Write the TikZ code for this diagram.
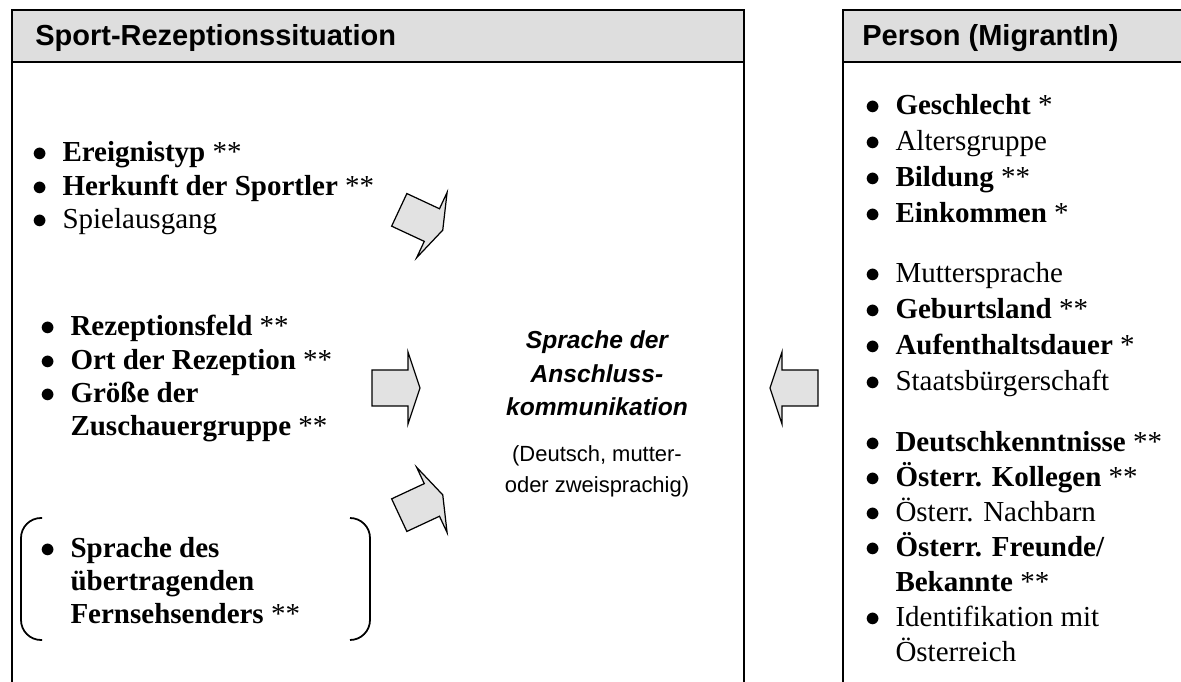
\documentclass[tikz,border=0pt]{standalone}
\usepackage{fontspec}
\setmainfont{Liberation Serif}
\setsansfont{Liberation Sans}
\usetikzlibrary{positioning}
\definecolor{panelgray}{RGB}{222,222,222}
\definecolor{arrowgray}{RGB}{226,226,226}
\newcommand{\itemsizeL}{\fontsize{16.5pt}{18.8pt}\selectfont}
\newcommand{\itemsizeR}{\fontsize{16.5pt}{20.4pt}\selectfont}
\newcommand{\itemsizeC}{\fontsize{16.5pt}{19.9pt}\selectfont}
\newcommand{\topicsize}{\fontsize{14pt}{18.8pt}\selectfont}
\newcommand{\notesize}{\fontsize{12.5pt}{18.2pt}\selectfont}
\newcommand{\ib}{$\bullet$}
\tikzset{
    panel/.style={line width=1.1pt},
    headtext/.style={anchor=base west, inner sep=0pt, font=\sffamily\bfseries\fontsize{16.5pt}{20pt}\selectfont},
    itemlist/.style={anchor=base west, inner sep=0pt},
    topic/.style={anchor=base, inner sep=0pt, font=\sffamily\topicsize},
    bracket/.style={line width=1pt, rounded corners=0.4cm},
    blockarrow/.pic={
        \filldraw[fill=arrowgray, line width=0.7pt, line join=miter]
            (-24,-18) -- (12,-18) -- (12,-36) -- (24,0) -- (12,36) -- (12,18) -- (-24,18) -- cycle;
    }
}

\begin{document}
\begin{tikzpicture}[x=0.02cm, y=-0.02cm]
    \useasboundingbox (0,0) rectangle (1181,682);
    \clip (0,0) rectangle (1181,682);
    % panels
    \fill[panelgray] (12,10) rectangle (744,62);
    \fill[panelgray] (843,10) rectangle (1200,62);
    \draw[panel] (12,700) -- (12,10) -- (744,10) -- (744,700);
    \draw[panel] (12,62) -- (744,62);
    \draw[panel] (843,700) -- (843,10) -- (1200,10);
    \draw[panel] (843,62) -- (1200,62);
    \node[headtext] (sporthead) at (35,46) {Sport-Rezeptionssituation};
    \node[headtext] (personhead) at (862,46) {Person (MigrantIn)};
    % left lists
    \node[itemlist, font=\itemsizeL] (event) at (32,162) {\begin{tabular}[t]{@{}l@{\hspace{0.3cm}}l@{}}
        \ib & \textbf{Ereignistyp} ** \\
        \ib & \textbf{Herkunft der Sportler} ** \\
        \ib & Spielausgang
    \end{tabular}};
    \node[itemlist, font=\itemsizeL] (reception) at (40,336) {\begin{tabular}[t]{@{}l@{\hspace{0.3cm}}l@{}}
        \ib & \textbf{Rezeptionsfeld} ** \\
        \ib & \textbf{Ort der Rezeption} ** \\
        \ib & \textbf{Größe der} \\
            & \textbf{Zuschauergruppe} **
    \end{tabular}};
    \node[itemlist, font=\itemsizeL] (channel) at (40,557) {\begin{tabular}[t]{@{}l@{\hspace{0.3cm}}l@{}}
        \ib & \textbf{Sprache des} \\
            & \textbf{übertragenden} \\
            & \textbf{Fernsehsenders} **
    \end{tabular}};
    \draw[bracket] (42,518) -- (21,518) -- (21,640) -- (42,640);
    \draw[bracket] (350,518) -- (370,518) -- (370,640) -- (350,640);
    % centre
    \node[topic, font=\sffamily\bfseries\itshape\topicsize] (language) at (597,349) {\begin{tabular}[t]{@{}c@{}}
        Sprache der\\ Anschluss-\\ kommunikation
    \end{tabular}};
    \node[topic, font=\sffamily\notesize] (languagenote) at (597,461) {\begin{tabular}[t]{@{}c@{}}
        (Deutsch, mutter-\\ oder zweisprachig)
    \end{tabular}};
    % right lists
    \node[itemlist, font=\itemsizeR] (social) at (865,115) {\begin{tabular}[t]{@{}l@{\hspace{0.3cm}}l@{}}
        \ib & \textbf{Geschlecht} * \\
        \ib & Altersgruppe \\
        \ib & \textbf{Bildung} ** \\
        \ib & \textbf{Einkommen} *
    \end{tabular}};
    \node[itemlist, font=\itemsizeR] (origin) at (865,283) {\begin{tabular}[t]{@{}l@{\hspace{0.3cm}}l@{}}
        \ib & Muttersprache \\
        \ib & \textbf{Geburtsland} ** \\
        \ib & \textbf{Aufenthaltsdauer} * \\
        \ib & Staatsbürgerschaft
    \end{tabular}};
    \node[itemlist, font=\itemsizeC] (contacts) at (865,452) {\begin{tabular}[t]{@{}l@{\hspace{0.3cm}}l@{}}
        \ib & \textbf{Deutschkenntnisse} ** \\
        \ib & \textbf{Österr. Kollegen} ** \\
        \ib & Österr. Nachbarn \\
        \ib & \textbf{Österr. Freunde/} \\
            & \textbf{Bekannte} ** \\
        \ib & Identifikation mit \\
            & Österreich
    \end{tabular}};
    % arrows
    \pic[rotate=-25] at (421,220) {blockarrow};
    \pic at (396,388) {blockarrow};
    \pic[rotate=25] at (421,505) {blockarrow};
    \pic[rotate=180] at (794,388) {blockarrow};
\end{tikzpicture}
\end{document}
